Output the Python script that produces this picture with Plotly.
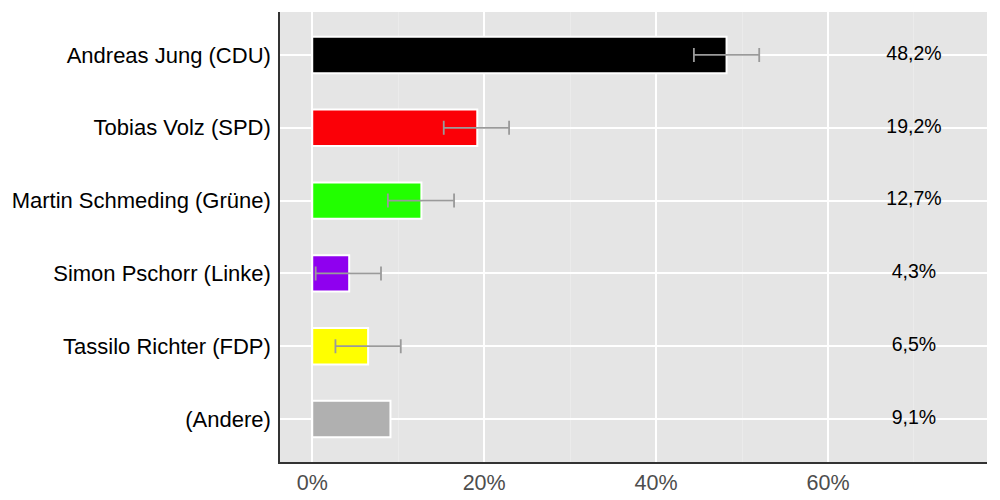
import plotly.graph_objects as go

candidates = ["Andreas Jung (CDU)", "Tobias Volz (SPD)", "Martin Schmeding (Grüne)",
              "Simon Pschorr (Linke)", "Tassilo Richter (FDP)", "(Andere)"]
shares = [48.2, 19.2, 12.7, 4.3, 6.5, 9.1]
err_low = [44.4, 15.3, 8.8, 0.4, 2.7, None]
err_high = [52.0, 22.9, 16.5, 8.0, 10.3, None]
colors = ["#000000", "#fb0007", "#22ff00", "#8f00ef", "#ffff00", "#b0b0b0"]
x_ticks = [0, 20, 40, 60]
label_x = 70

fig = go.Figure()

fig.add_trace(go.Bar(
    x=shares, y=candidates, orientation="h",
    marker=dict(color=colors, line=dict(color="white", width=2)),
    width=0.5, showlegend=False, hoverinfo="skip",
))

# error bars drawn from the interval bounds
ex, ey, eminus, eplus = [], [], [], []
for c, s, lo, hi in zip(candidates, shares, err_low, err_high):
    if lo is None:
        continue
    mid = (lo + hi) / 2
    ex.append(mid)
    ey.append(c)
    eminus.append(mid - lo)
    eplus.append(hi - mid)

fig.add_trace(go.Scatter(
    x=ex, y=ey, mode="markers", marker=dict(size=0.1, opacity=0),
    error_x=dict(type="data", symmetric=False, array=eplus, arrayminus=eminus,
                 color="#9a9a9a", thickness=1.8, width=7),
    showlegend=False, hoverinfo="skip",
))

fig.add_trace(go.Scatter(
    x=[label_x] * len(shares), y=candidates, mode="text",
    text=[f"{v:.1f}%".replace(".", ",") for v in shares],
    textfont=dict(size=19.5, color="black", family="Liberation Sans"),
    showlegend=False, hoverinfo="skip",
))

# page body has an 8px offset, margins compensate
fig.update_layout(
    width=1000, height=500,
    margin=dict(l=272, r=21, t=4, b=46),
    plot_bgcolor="#e5e5e5", paper_bgcolor="white",
    font=dict(family="Liberation Sans", size=22, color="black"),
)
fig.update_xaxes(
    range=[-3.75, 78.5], tickvals=x_ticks, ticktext=[f"{t}%" for t in x_ticks],
    gridcolor="white", gridwidth=1.5, zeroline=False,
    minor=dict(tickvals=[10, 30, 50, 70], showgrid=True, gridcolor="#ebebeb", gridwidth=1),
    showline=True, linecolor="#333333", linewidth=1.5,
    tickfont=dict(color="#4d4d4d", size=21.5), ticks="",
)
fig.update_yaxes(
    categoryorder="array", categoryarray=candidates, autorange=False,
    range=[5.59, -0.59],
    gridcolor="white", gridwidth=1.5,
    showline=True, linecolor="#333333", linewidth=1.5,
    ticks="outside", ticklen=3, tickcolor="rgba(0,0,0,0)",
    tickfont=dict(color="black", size=22),
)

fig.write_html("out.html")
